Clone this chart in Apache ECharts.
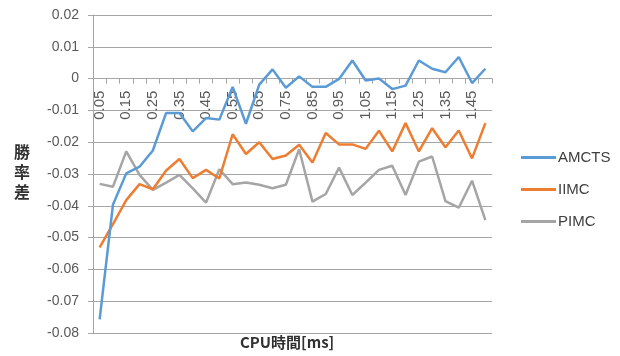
<!DOCTYPE html>
<html>
<head>
<meta charset="utf-8">
<script src="https://cdn.jsdelivr.net/npm/echarts@6/dist/echarts.min.js"></script>
<style>
  html, body { margin: 0; padding: 0; background: #fff; }
  #chart { width: 620px; height: 356px; }
</style>
</head>
<body>
<div id="chart"></div>
<script>
// CPU time budget per move (ms)
const cpuTimes = ['0.05','0.1','0.15','0.2','0.25','0.3','0.35','0.4','0.45','0.5',
                  '0.55','0.6','0.65','0.7','0.75','0.8','0.85','0.9','0.95','1',
                  '1.05','1.1','1.15','1.2','1.25','1.3','1.35','1.4','1.45','1.5'];

// Win-rate difference for each method
const amcts = [-0.0757, -0.0397, -0.0298, -0.0277, -0.0226, -0.0108, -0.0108, -0.0166, -0.0124, -0.0129,
               -0.0026, -0.0142, -0.0019, 0.0029, -0.0029, 0.0007, -0.0026, -0.0026, -0.0001, 0.0057,
               -0.0006, 0.0000, -0.0033, -0.0022, 0.0057, 0.0031, 0.0020, 0.0068, -0.0014, 0.0031];
const iimc  = [-0.0531, -0.0458, -0.0382, -0.0332, -0.0348, -0.0289, -0.0253, -0.0313, -0.0287, -0.0314,
               -0.0175, -0.0237, -0.0200, -0.0253, -0.0242, -0.0208, -0.0264, -0.0171, -0.0207, -0.0207,
               -0.0221, -0.0164, -0.0229, -0.0140, -0.0229, -0.0156, -0.0216, -0.0163, -0.0251, -0.0140];
const pimc  = [-0.0331, -0.0340, -0.0229, -0.0303, -0.0350, -0.0327, -0.0303, -0.0345, -0.0390, -0.0285,
               -0.0332, -0.0327, -0.0334, -0.0345, -0.0334, -0.0222, -0.0387, -0.0363, -0.0280, -0.0366,
               -0.0327, -0.0287, -0.0274, -0.0366, -0.0261, -0.0245, -0.0385, -0.0406, -0.0321, -0.0445];

const seriesNames = ['AMCTS', 'IIMC', 'PIMC'];
const seriesColors = ['#5B9BD5', '#ED7D31', '#A5A5A5'];
const seriesData = [amcts, iimc, pimc];

const yMin = -0.08, yMax = 0.02, yStep = 0.01;

const latin = '"Liberation Sans", "Noto Sans", sans-serif';
const cjk = '"Noto Sans CJK JP", sans-serif';
const gridGray = '#a6a6a6';

// Category tick labels sit just under the zero line (every other category)
const tickLabelPoints = cpuTimes
  .map((c, i) => ({ c, i }))
  .filter(d => d.i % 2 === 0)
  .map(d => [d.c, 0]);

const chart = echarts.init(document.getElementById('chart'), null, { renderer: 'canvas' });

const lineSeries = seriesNames.map((name, k) => ({
  name: name,
  type: 'line',
  data: seriesData[k],
  showSymbol: false,
  symbol: 'none',
  lineStyle: { color: seriesColors[k], width: 2.5 },
  itemStyle: { color: seriesColors[k] },
  z: 5 - k
}));

const tickLabelSeries = {
  name: 'cpu-tick-labels',
  type: 'scatter',
  data: tickLabelPoints,
  symbolSize: 0,
  silent: true,
  z: 1,
  label: {
    show: true,
    position: 'bottom',
    distance: 12,
    rotate: 90,
    align: 'right',
    verticalAlign: 'middle',
    fontFamily: latin,
    fontSize: 15,
    color: '#303030',
    formatter: p => Number(p.value[0]).toFixed(2)
  }
};

chart.setOption({
  animation: false,
  backgroundColor: '#ffffff',
  grid: { left: 93, right: 128, top: 15, bottom: 23, containLabel: false, outerBoundsMode: 'none' },
  legend: {
    orient: 'vertical',
    left: 516,
    top: 145,
    itemWidth: 35,
    itemHeight: 3,
    itemGap: 17,
    icon: 'rect',
    textStyle: { fontFamily: latin, fontSize: 15, color: '#404040', padding: [0, 0, 0, -3] },
    data: seriesNames
  },
  xAxis: {
    type: 'category',
    data: cpuTimes,
    boundaryGap: true,
    position: 'bottom',
    axisLine: { show: true, onZero: true, onZeroAxisIndex: 0, lineStyle: { color: gridGray, width: 1 } },
    axisTick: { show: true, interval: 0, length: 5, lineStyle: { color: gridGray } },
    axisLabel: { show: false },
    splitLine: { show: false }
  },
  yAxis: {
    type: 'value',
    min: yMin,
    max: yMax,
    interval: yStep,
    axisLine: { show: true, onZero: false, lineStyle: { color: gridGray } },
    axisTick: { show: true, length: 5, lineStyle: { color: gridGray } },
    axisLabel: {
      margin: 14,
      fontFamily: latin,
      fontSize: 14,
      color: '#595959',
      formatter: v => (Math.abs(v) < 1e-9 ? '0' : v.toFixed(2))
    },
    splitLine: { show: true, lineStyle: { color: gridGray, width: 1 } }
  },
  series: lineSeries.concat([tickLabelSeries]),
  graphic: [
    {
      type: 'text',
      left: 14,
      top: 142,
      style: {
        text: '勝\n率\n差',
        fontFamily: cjk,
        fontSize: 16,
        fontWeight: 'bold',
        lineHeight: 20,
        fill: '#303030'
      }
    },
    {
      type: 'text',
      left: 240,
      top: 335,
      style: {
        text: 'CPU時間[ms]',
        fontFamily: cjk,
        fontSize: 15,
        fontWeight: 'bold',
        fill: '#303030'
      }
    }
  ]
});
</script>
</body>
</html>
